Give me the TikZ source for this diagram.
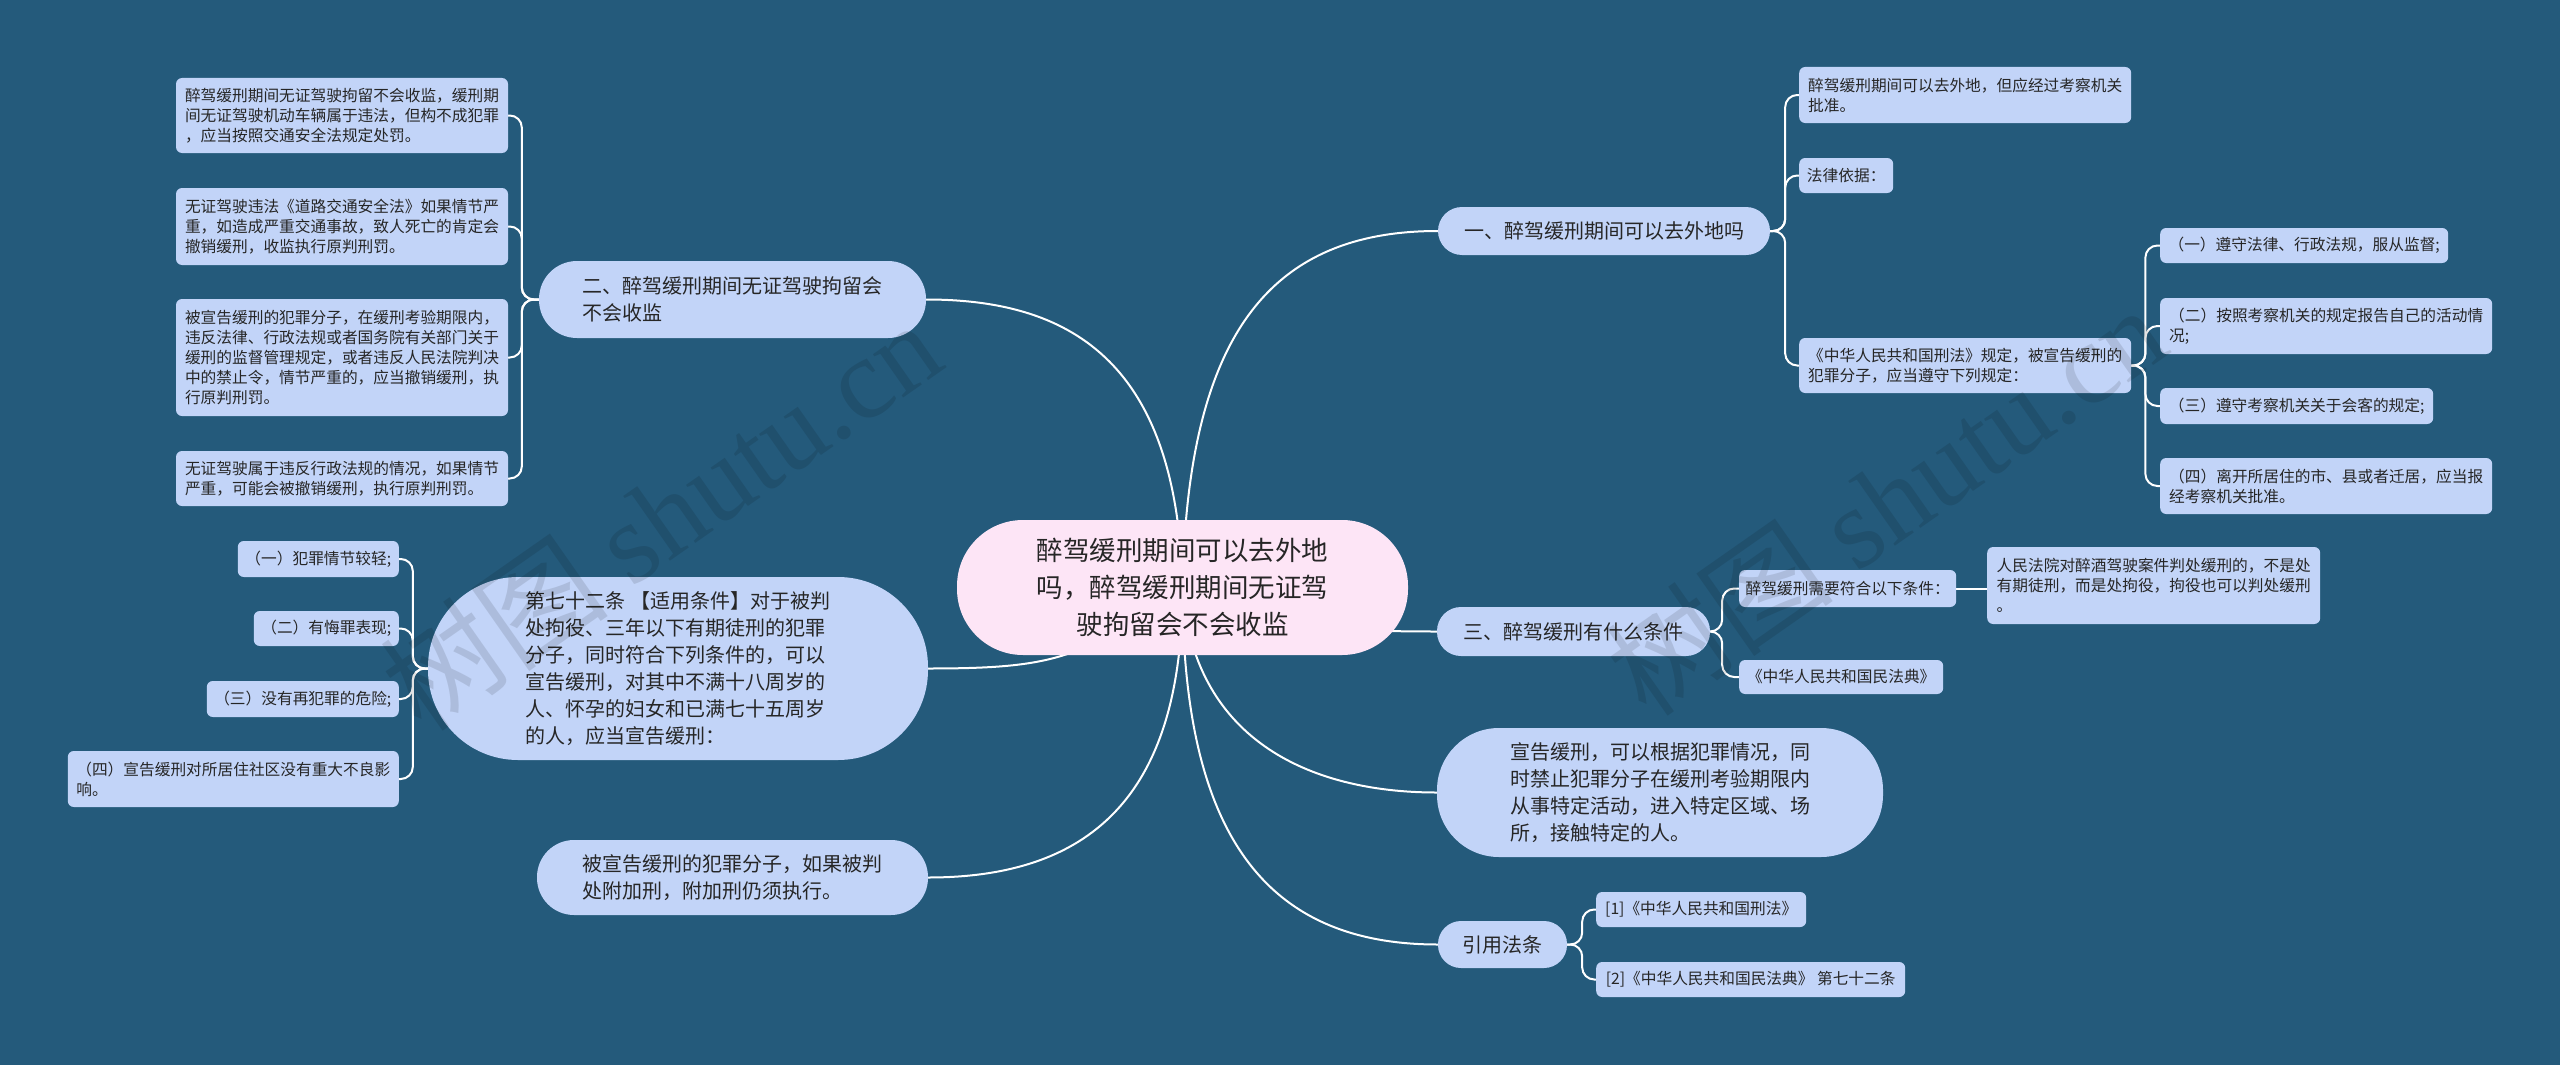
\documentclass[tikz,border=0pt]{standalone}
\usepackage{fontspec}
\setmainfont{Noto Sans CJK SC}
\newfontfamily\wmfont{Liberation Serif}
\usetikzlibrary{backgrounds}
\definecolor{bgblue}{RGB}{36,90,123}
\definecolor{nodeblue}{RGB}{194,212,248}
\definecolor{rootpink}{RGB}{253,229,246}
\definecolor{textdark}{RGB}{38,38,38}

\begin{document}
\begin{tikzpicture}
    [
      x=1pt, y=-1pt,
      leaf/.style={fill=nodeblue, rounded corners=6pt, align=left, inner sep=2pt,
                   text=textdark, font=\fontsize{15.7pt}{20pt}\selectfont},
      topic/.style={fill=nodeblue, align=left, inner sep=2pt,
                    text=textdark, font=\fontsize{20pt}{27pt}\selectfont},
      root/.style={fill=rootpink, align=center, inner sep=2pt,
                   text=textdark, font=\fontsize{26.5pt}{37pt}\selectfont},
      link/.style={draw=white, line width=2pt},
      brace/.style={link, rounded corners=12pt},
      watermark/.style={text=black, text opacity=.11, rotate=35,
                        font=\fontsize{115pt}{115pt}\selectfont},
    ]
    \useasboundingbox (0,0) rectangle (2560,1065);
    \begin{scope}[on background layer]
      \fill [bgblue] (0,0) rectangle (2560,1065);
    \end{scope}

    % root
    \node [root, minimum width=451pt, minimum height=135pt, rounded corners=66pt] (root)
      at (1182.5,587.5) {醉驾缓刑期间可以去外地\\吗，醉驾缓刑期间无证驾\\驶拘留会不会收监};

    % topics
    \node [topic, minimum width=332pt, minimum height=48pt, rounded corners=24pt] (one)
      at (1604,231) {一、醉驾缓刑期间可以去外地吗};
    \node [topic, minimum width=387pt, minimum height=77pt, rounded corners=38pt] (two)
      at (732.5,299.5) {二、醉驾缓刑期间无证驾驶拘留会\\不会收监};
    \node [topic, minimum width=273pt, minimum height=49pt, rounded corners=24pt] (three)
      at (1573.5,631.5) {三、醉驾缓刑有什么条件};
    \node [topic, minimum width=500pt, minimum height=183pt, rounded corners=90pt] (art)
      at (678,668.5) {第七十二条 【适用条件】对于被判\\处拘役、三年以下有期徒刑的犯罪\\分子，同时符合下列条件的，可以\\宣告缓刑，对其中不满十八周岁的\\人、怀孕的妇女和已满七十五周岁\\的人，应当宣告缓刑：};
    \node [topic, minimum width=391pt, minimum height=75pt, rounded corners=37pt] (extra)
      at (732.5,877.5) {被宣告缓刑的犯罪分子，如果被判\\处附加刑，附加刑仍须执行。};
    \node [topic, minimum width=446pt, minimum height=129pt, rounded corners=62pt] (ban)
      at (1660,792.5) {宣告缓刑，可以根据犯罪情况，同\\时禁止犯罪分子在缓刑考验期限内\\从事特定活动，进入特定区域、场\\所，接触特定的人。};
    \node [topic, minimum width=129pt, minimum height=47pt, rounded corners=23pt] (cite)
      at (1502.5,944.5) {引用法条};

    % leaves of two
    \foreach \i/\y/\h/\t in {
        1/115.5/75/{醉驾缓刑期间无证驾驶拘留不会收监，缓刑期\\间无证驾驶机动车辆属于违法，但构不成犯罪\\，应当按照交通安全法规定处罚。},
        2/226.5/77/{无证驾驶违法《道路交通安全法》如果情节严\\重，如造成严重交通事故，致人死亡的肯定会\\撤销缓刑，收监执行原判刑罚。},
        3/357.5/117/{被宣告缓刑的犯罪分子，在缓刑考验期限内，\\违反法律、行政法规或者国务院有关部门关于\\缓刑的监督管理规定，或者违反人民法院判决\\中的禁止令，情节严重的，应当撤销缓刑，执\\行原判刑罚。},
        4/478.5/55/{无证驾驶属于违反行政法规的情况，如果情节\\严重，可能会被撤销缓刑，执行原判刑罚。}} {
      \node [leaf, minimum width=332pt, minimum height=\h pt] (lt\i) at (342,\y) {\t};
    }

    % leaves of art
    \foreach \i/\y/\w/\h/\t in {
        1/559/161/36/{（一）犯罪情节较轻;},
        2/628.5/145/35/{（二）有悔罪表现;},
        3/699/192/36/{（三）没有再犯罪的危险;},
        4/779/331/56/{（四）宣告缓刑对所居住社区没有重大不良影\\响。}} {
      \node [leaf, anchor=east, minimum width=\w pt, minimum height=\h pt] (lb\i) at (399,\y) {\t};
    }

    % leaves of one
    \foreach \i/\y/\w/\h/\t in {
        1/95/332/56/{醉驾缓刑期间可以去外地，但应经过考察机关\\批准。},
        2/175.5/94/35/{法律依据：},
        3/365.5/332/55/{《中华人民共和国刑法》规定，被宣告缓刑的\\犯罪分子，应当遵守下列规定：}} {
      \node [leaf, anchor=west, minimum width=\w pt, minimum height=\h pt] (r\i) at (1799,\y) {\t};
    }
    \foreach \i/\y/\w/\h/\t in {
        1/245.5/288/35/{（一）遵守法律、行政法规，服从监督;},
        2/326/332/56/{（二）按照考察机关的规定报告自己的活动情\\况;},
        3/406/273/36/{（三）遵守考察机关关于会客的规定;},
        4/486/332/56/{（四）离开所居住的市、县或者迁居，应当报\\经考察机关批准。}} {
      \node [leaf, anchor=west, minimum width=\w pt, minimum height=\h pt] (s\i) at (2160,\y) {\t};
    }

    % leaves of three
    \node [leaf, anchor=west, minimum width=217pt, minimum height=37pt] (t1)
      at (1739,588.5) {醉驾缓刑需要符合以下条件：};
    \node [leaf, anchor=west, minimum width=204pt, minimum height=34pt] (t2)
      at (1739,677) {《中华人民共和国民法典》};
    \node [leaf, anchor=west, minimum width=333pt, minimum height=77pt] (t1c)
      at (1987,585.5) {人民法院对醉酒驾驶案件判处缓刑的，不是处\\有期徒刑，而是处拘役，拘役也可以判处缓刑\\。};

    % leaves of cite
    \node [leaf, anchor=west, minimum width=210pt, minimum height=35pt] (c1)
      at (1596,909.5) {[1]《中华人民共和国刑法》};
    \node [leaf, anchor=west, minimum width=309pt, minimum height=35pt] (c2)
      at (1596,979.5) {[2]《中华人民共和国民法典》 第七十二条};

    % connectors
    \begin{scope}[on background layer]
      \draw [link] (root.center) .. controls +(-5,-230) and +(140,0) .. (two.east);
      \draw [link] (root.center) .. controls +(5,-250) and +(-170,0) .. (one.west);
      \draw [link] (root.center) .. controls +(-100,70) and +(130,0) .. (art.east);
      \draw [link] (root.center) .. controls +(0,200) and +(170,0) .. (extra.east);
      \draw [link] (root.center) .. controls +(100,40) and +(-100,0) .. (three.west);
      \draw [link] (root.center) .. controls +(10,150) and +(-130,0) .. (ban.west);
      \draw [link] (root.center) .. controls +(0,250) and +(-170,0) .. (cite.west);

      \foreach \i in {1,...,4} {
        \draw [brace] (two.west) -- ++(-17,0) |- (lt\i.east);
        \draw [brace] (art.west) -- ++(-15,0) |- (lb\i.east);
        \draw [brace] (r3.east) -- ++(14,0) |- (s\i.west);
      }
      \foreach \i in {1,2,3}
        \draw [brace] (one.east) -- ++(15,0) |- (r\i.west);
      \foreach \i in {1,2} {
        \draw [brace] (three.east) -- ++(12,0) |- (t\i.west);
        \draw [brace] (cite.east) -- ++(15,0) |- (c\i.west);
      }
      \draw [link] (t1.east) -- (t1.east -| t1c.west);
    \end{scope}

    % watermark
    \node [watermark] (wm1) at (660,515) {树图 {\wmfont shutu.cn}};
    \node [watermark] (wm2) at (1885,500) {树图 {\wmfont shutu.cn}};
  \end{tikzpicture}
\end{document}
